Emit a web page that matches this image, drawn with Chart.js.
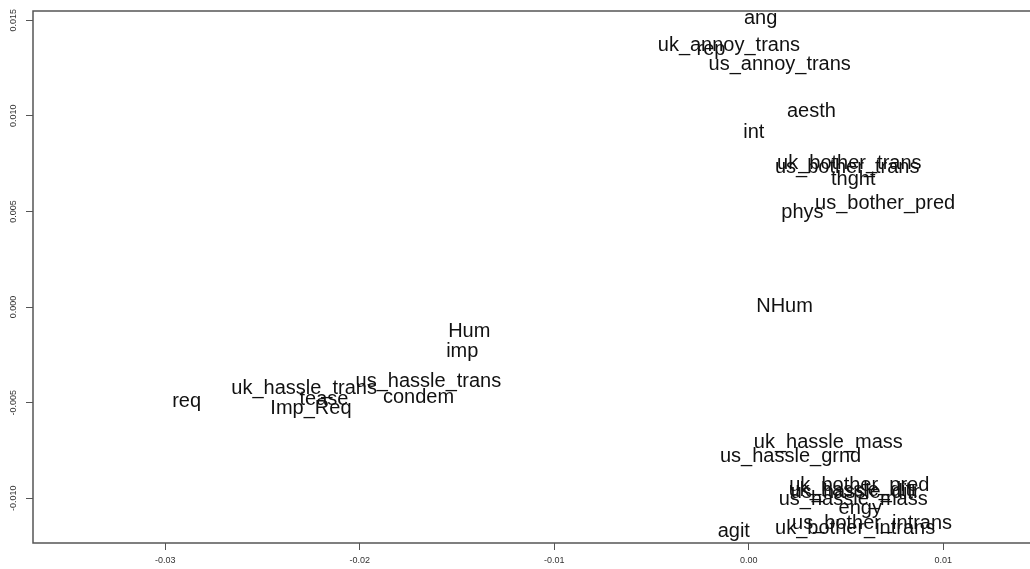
<!DOCTYPE html>
<html>
<head>
<meta charset="utf-8">
<script src="https://cdn.jsdelivr.net/npm/chart.js@4.4.1/dist/chart.umd.min.js"></script>
<style>
  html, body { margin: 0; padding: 0; background: #fff; }
  #wrap { width: 1030px; height: 569px; }
</style>
</head>
<body>
<div id="wrap"><canvas id="chart" width="1030" height="569"></canvas></div>
<script>
// Label positions (dimension 1 vs dimension 2)
const labels = [
  'ang', 'uk_annoy_trans', 'rep', 'us_annoy_trans', 'aesth', 'int',
  'uk_bother_trans', 'us_bother_trans', 'thght', 'us_bother_pred', 'phys',
  'NHum', 'Hum', 'imp', 'us_hassle_trans', 'uk_hassle_trans', 'condem',
  'req', 'tease', 'Imp_Req', 'uk_hassle_mass', 'us_hassle_grnd',
  'uk_bother_pred', 'uk_hassle_ditr', 'us_hassle_ditr', 'us_hassle_mass',
  'engy', 'us_bother_intrans', 'uk_bother_intrans', 'agit'
];
const xVals = [
  0.00061, -0.00102, -0.00194, 0.00159, 0.00322, 0.00026,
  0.00517, 0.00506, 0.00537, 0.00701, 0.00276,
  0.00184, -0.01437, -0.01473, -0.01647, -0.02286, -0.01698,
  -0.0289, -0.02184, -0.02251, 0.00409, 0.00215,
  0.00568, 0.00537, 0.00547, 0.00537,
  0.00573, 0.00634, 0.00547, -0.00077
];
const yVals = [
  0.01511, 0.0137, 0.01349, 0.01266, 0.0102, 0.00915,
  0.00753, 0.00732, 0.00669, 0.00539, 0.00492,
  0.00005, -0.00126, -0.00235, -0.00387, -0.00424, -0.00471,
  -0.00492, -0.00486, -0.00528, -0.00706, -0.00779,
  -0.00931, -0.00957, -0.00968, -0.01004,
  -0.01051, -0.0113, -0.01156, -0.01172
];
const xTicks = [-0.03, -0.02, -0.01, 0.00, 0.01];
const xTickLabels = ['-0.03', '-0.02', '-0.01', '0.00', '0.01'];
const yTicks = [-0.010, -0.005, 0.000, 0.005, 0.010, 0.015];
const yTickLabels = ['-0.010', '-0.005', '0.000', '0.005', '0.010', '0.015'];

const points = xVals.map((x, i) => ({ x: x, y: yVals[i] }));

// draws the text labels at each point, the plot frame and the rotated y tick labels
const textPlot = {
  id: 'textPlot',
  afterDatasetsDraw(chart) {
    const ctx = chart.ctx;
    const meta = chart.getDatasetMeta(0);
    ctx.save();
    ctx.font = '20px "Liberation Sans", Arial, sans-serif';
    ctx.fillStyle = '#111';
    ctx.textAlign = 'center';
    ctx.textBaseline = 'middle';
    meta.data.forEach((pt, i) => {
      ctx.fillText(labels[i], pt.x, pt.y);
    });
    ctx.restore();
  },
  afterDraw(chart) {
    const ctx = chart.ctx;
    const a = chart.chartArea;
    ctx.save();
    ctx.strokeStyle = '#555';
    ctx.lineWidth = 1.5;
    ctx.strokeRect(a.left, a.top, a.right - a.left + 20, a.bottom - a.top);

    const yScale = chart.scales.y;
    ctx.font = '9px "Liberation Sans", Arial, sans-serif';
    ctx.fillStyle = '#333';
    ctx.textAlign = 'center';
    ctx.textBaseline = 'middle';
    yTicks.forEach((v, i) => {
      const py = yScale.getPixelForValue(v);
      ctx.save();
      ctx.translate(14, py);
      ctx.rotate(-Math.PI / 2);
      ctx.fillText(yTickLabels[i], 0, 0);
      ctx.restore();
    });
    ctx.restore();
  }
};

new Chart(document.getElementById('chart'), {
  type: 'scatter',
  data: {
    datasets: [{
      data: points,
      pointRadius: 0,
      pointHoverRadius: 0,
      showLine: false
    }]
  },
  options: {
    responsive: false,
    animation: false,
    layout: { padding: { top: 11, right: 0, left: 0, bottom: 0 } },
    plugins: {
      legend: { display: false },
      tooltip: { enabled: false }
    },
    scales: {
      x: {
        type: 'linear',
        min: -0.0368,
        max: 0.01446,
        afterBuildTicks: (scale) => {
          scale.ticks = xTicks.map(v => ({ value: v }));
        },
        afterFit: (scale) => { scale.height = 26; },
        border: { display: false },
        grid: {
          drawOnChartArea: false,
          drawTicks: true,
          tickLength: 7,
          color: '#555',
          lineWidth: 1
        },
        ticks: {
          maxRotation: 0,
          autoSkip: false,
          padding: 5,
          color: '#333',
          font: { family: '"Liberation Sans", Arial, sans-serif', size: 9 },
          callback: (value) => {
            const i = xTicks.indexOf(value);
            return i >= 0 ? xTickLabels[i] : '';
          }
        }
      },
      y: {
        type: 'linear',
        min: -0.01234,
        max: 0.01548,
        afterBuildTicks: (scale) => {
          scale.ticks = yTicks.map(v => ({ value: v }));
        },
        afterFit: (scale) => { scale.width = 33; },
        border: { display: false },
        grid: {
          drawOnChartArea: false,
          drawTicks: true,
          tickLength: 7,
          color: '#555',
          lineWidth: 1
        },
        ticks: { display: false }
      }
    }
  },
  plugins: [textPlot]
});
</script>
</body>
</html>
